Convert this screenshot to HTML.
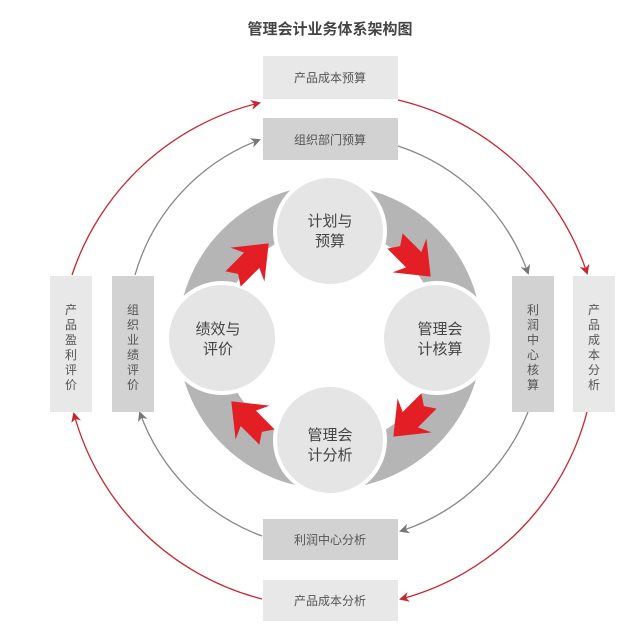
<!DOCTYPE html>
<html><head><meta charset="utf-8"><style>
body{margin:0;background:#fff;width:640px;height:638px;overflow:hidden;font-family:"Liberation Sans","Noto Sans CJK SC",sans-serif}
</style></head><body>
<svg width="640" height="638" viewBox="0 0 640 638" xmlns="http://www.w3.org/2000/svg" font-family="Liberation Sans, Noto Sans CJK SC, sans-serif">
<defs>
<marker id="mr" markerWidth="10" markerHeight="10" refX="8" refY="5" orient="auto" markerUnits="userSpaceOnUse"><path d="M0,0 L10,5 L0,10 L3,5 Z" fill="#c8262e"/></marker>
<marker id="mg" markerWidth="10" markerHeight="10" refX="8" refY="5" orient="auto" markerUnits="userSpaceOnUse"><path d="M0,0 L10,5 L0,10 L3,5 Z" fill="#777"/></marker>
<g id="arr"><polygon points="-20,-9 2,-9 -3,-20 22,0 -3,20 2,9 -20,9 -14,0" fill="#e31e24"/></g>
</defs>
<text x="330" y="34" text-anchor="middle" font-size="15" font-weight="bold" fill="#444">管理会计业务体系架构图</text>
<g fill="none" stroke="#c8262e" stroke-width="1.3">
<path d="M72,275 A262 262 0 0 1 259,103" marker-end="url(#mr)"/>
<path d="M398,100 A262 262 0 0 1 587,273" marker-end="url(#mr)"/>
<path d="M587,412 A262 262 0 0 1 401,599" marker-end="url(#mr)"/>
<path d="M262,599 A262 262 0 0 1 74,414" marker-end="url(#mr)"/>
</g>
<g fill="none" stroke="#888" stroke-width="1.3">
<path d="M135,275 A205 205 0 0 1 259,140" marker-end="url(#mg)"/>
<path d="M398,146 A205 205 0 0 1 528,273" marker-end="url(#mg)"/>
<path d="M528,412 A205 205 0 0 1 401,531" marker-end="url(#mg)"/>
<path d="M262,536 A205 205 0 0 1 140,413" marker-end="url(#mg)"/>
</g>
<rect x="263" y="56" width="135" height="43" fill="#e8e8e8"/>
<text x="330" y="82" text-anchor="middle" font-size="12" fill="#555">产品成本预算</text>
<rect x="263" y="118" width="135" height="42" fill="#d2d2d2"/>
<text x="330" y="144" text-anchor="middle" font-size="12" fill="#555">组织部门预算</text>
<rect x="263" y="519" width="135" height="41" fill="#d2d2d2"/>
<text x="330" y="544" text-anchor="middle" font-size="12" fill="#555">利润中心分析</text>
<rect x="263" y="580" width="135" height="41" fill="#e8e8e8"/>
<text x="330" y="605" text-anchor="middle" font-size="12" fill="#555">产品成本分析</text>
<rect x="50" y="276" width="42" height="136" fill="#e8e8e8"/>
<rect x="112" y="276" width="42" height="136" fill="#d2d2d2"/>
<rect x="512" y="276" width="42" height="136" fill="#d2d2d2"/>
<rect x="573" y="276" width="42" height="136" fill="#e8e8e8"/>
<g font-size="12" fill="#555" text-anchor="middle">
<text x="71" y="314">产</text><text x="71" y="329">品</text><text x="71" y="344">盈</text><text x="71" y="359">利</text><text x="71" y="374">评</text><text x="71" y="389">价</text>
<text x="133" y="314">组</text><text x="133" y="329">织</text><text x="133" y="344">业</text><text x="133" y="359">绩</text><text x="133" y="374">评</text><text x="133" y="389">价</text>
<text x="533" y="314">利</text><text x="533" y="329">润</text><text x="533" y="344">中</text><text x="533" y="359">心</text><text x="533" y="374">核</text><text x="533" y="389">算</text>
<text x="594" y="314">产</text><text x="594" y="329">品</text><text x="594" y="344">成</text><text x="594" y="359">本</text><text x="594" y="374">分</text><text x="594" y="389">析</text>
</g>
<circle cx="330" cy="337" r="130" fill="none" stroke="#b5b5b5" stroke-width="44"/>
<g fill="#e5e5e5" stroke="#fff" stroke-width="4">
<circle cx="330" cy="231" r="55"/>
<circle cx="437" cy="338" r="55"/>
<circle cx="330" cy="440" r="55"/>
<circle cx="222" cy="338" r="55"/>
</g>
<use href="#arr" transform="translate(250,262) rotate(-45) scale(1.2)"/>
<use href="#arr" transform="translate(412,258) rotate(45) scale(1.2)"/>
<use href="#arr" transform="translate(412,418) rotate(135) scale(1.2)"/>
<use href="#arr" transform="translate(250,420) rotate(-135) scale(1.2)"/>
<g font-size="15" fill="#444" text-anchor="middle">
<text x="330" y="226">计划与</text><text x="330" y="246">预算</text>
<text x="440" y="334">管理会</text><text x="440" y="354">计核算</text>
<text x="330" y="440">管理会</text><text x="330" y="460">计分析</text>
<text x="218" y="334">绩效与</text><text x="218" y="354">评价</text>
</g>
</svg>
</body></html>
